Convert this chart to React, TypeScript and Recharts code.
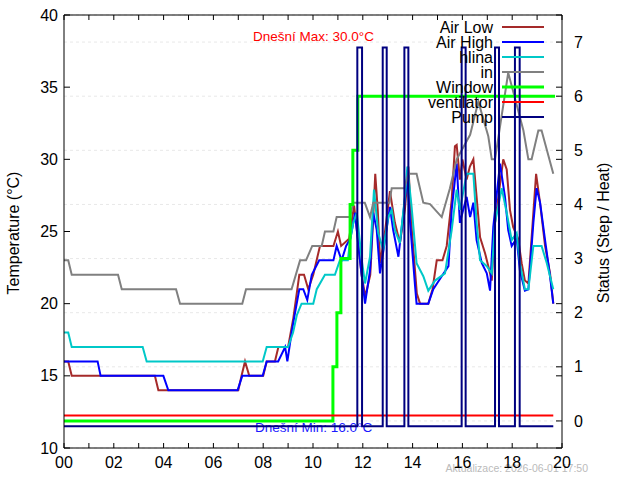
import React from 'react';
import { ComposedChart, Line, XAxis, YAxis, CartesianGrid, ReferenceLine, Legend } from 'recharts';

// ---------- data ----------
const hourTicks = [0, 1, 2, 3, 4, 5, 6, 7, 8, 9, 10, 11, 12, 13, 14, 15, 16, 17, 18, 19, 20];
const tempTicks = [10, 15, 20, 25, 30, 35, 40];
const statusTicks = [0, 1, 2, 3, 4, 5, 6, 7];

// [hour, °C]
const airLow: [number, number][] = [
  [0, 16], [0.17, 16], [0.31, 15], [3.65, 15], [3.79, 14], [7.0, 14], [7.13, 15], [7.27, 16], [7.44, 15],
  [8.0, 15], [8.14, 16], [8.47, 16], [8.61, 17], [9.0, 17], [9.21, 19], [9.45, 22], [9.64, 22], [9.81, 21],
  [10.01, 22], [10.28, 24], [10.82, 24], [11.0, 25], [11.13, 24], [11.45, 24.5], [11.65, 26.8], [11.8, 24.5],
  [11.95, 22], [12.1, 20.5], [12.3, 22], [12.42, 26], [12.5, 29], [12.6, 26.5], [12.7, 22.8], [12.9, 25.1],
  [13.09, 27.8], [13.29, 25.6], [13.49, 24.2], [13.69, 26.5], [13.83, 29.5], [13.97, 25.1], [14.17, 20.7],
  [14.3, 20], [14.63, 20], [14.8, 21], [14.97, 23], [15.2, 23], [15.37, 24], [15.57, 27.2], [15.7, 30.9],
  [15.77, 31], [15.9, 28.6], [16.0, 30], [16.17, 28.6], [16.3, 29.5], [16.44, 30], [16.57, 27.4], [16.71, 24.6],
  [16.91, 23.5], [17.11, 22.1], [17.18, 21.6], [17.31, 25.6], [17.64, 30], [17.78, 29.3], [17.91, 26.5],
  [18.04, 25.3], [18.24, 24.5], [18.38, 22.8], [18.51, 21.6], [18.65, 21.4], [18.85, 26.3], [18.96, 29],
  [19.12, 26.95], [19.32, 24], [19.52, 22.1], [19.65, 20],
];

const airHigh: [number, number][] = [
  [0, 16], [1.35, 16], [1.47, 15], [3.99, 15], [4.19, 14], [6.97, 14], [7.16, 15], [7.98, 15], [8.14, 16],
  [8.6, 16], [8.88, 17], [8.97, 16], [9.14, 18], [9.24, 19], [9.45, 21], [9.61, 21], [9.77, 20.25], [9.95, 22],
  [10.25, 23], [10.82, 23], [10.95, 24], [11.15, 23], [11.33, 24], [11.5, 24.5], [11.69, 26.3], [11.82, 24],
  [11.96, 21.9], [12.09, 20], [12.29, 22.3], [12.42, 26.3], [12.56, 25.1], [12.69, 22.1], [12.89, 24.4],
  [13.09, 26.7], [13.22, 25.1], [13.43, 23.25], [13.63, 26.3], [13.79, 28.8], [13.9, 25.6], [14.1, 21.2],
  [14.16, 20], [14.63, 20], [14.83, 21], [15.17, 21.9], [15.44, 22.6], [15.57, 26.5], [15.77, 29.7],
  [15.9, 25.6], [16.17, 27.4], [16.31, 26], [16.44, 27], [16.57, 24.4], [16.78, 22.8], [16.98, 22.1],
  [17.11, 20.9], [17.24, 25.3], [17.51, 29.7], [17.71, 27.4], [17.84, 25.1], [17.98, 24], [18.18, 24.5],
  [18.31, 22.3], [18.51, 20.9], [18.65, 21], [18.85, 25.6], [18.98, 28], [19.12, 27], [19.32, 24.4],
  [19.52, 21.9], [19.65, 20],
];

const hlina: [number, number][] = [
  [0, 18], [0.17, 18], [0.31, 17], [3.16, 17], [3.32, 16], [7.98, 16], [8.14, 17], [9.0, 17], [9.2, 18],
  [9.35, 19.2], [9.54, 20], [10.01, 20], [10.15, 21], [10.48, 22], [10.88, 22], [11.08, 23], [11.4, 23],
  [11.49, 24.4], [11.62, 25.6], [11.76, 26.3], [11.96, 23], [12.09, 21.4], [12.29, 23.25], [12.45, 27.9],
  [12.62, 24.9], [12.82, 23.7], [13.02, 26], [13.16, 26.5], [13.29, 25.1], [13.49, 24.2], [13.69, 27.4],
  [13.79, 29.5], [13.96, 26.7], [14.16, 22.8], [14.43, 21.9], [14.63, 20.9], [14.9, 21.6], [15.3, 22.1],
  [15.57, 25.1], [15.77, 27.9], [15.9, 26.5], [16.17, 29], [16.44, 29], [16.57, 25.6], [16.71, 23],
  [16.98, 22.6], [17.18, 22.1], [17.31, 25.6], [17.58, 28], [17.78, 26.3], [17.98, 24.4], [18.18, 24.9],
  [18.31, 22.8], [18.51, 21], [18.65, 21], [18.85, 24], [19.18, 24], [19.39, 22.8], [19.65, 21],
];

const inside: [number, number][] = [
  [0, 23], [0.17, 23], [0.31, 22], [2.17, 22], [2.32, 21], [4.5, 21], [4.66, 20], [7.16, 20], [7.31, 21],
  [9.14, 21], [9.48, 23], [9.72, 23], [9.97, 24], [10.35, 24], [10.48, 25], [10.82, 25], [10.95, 26],
  [11.49, 26], [11.62, 27], [12.08, 27], [12.29, 26], [12.42, 27], [13.07, 27], [13.16, 28], [13.67, 28],
  [13.83, 29], [14.16, 29], [14.43, 27], [14.7, 26.9], [15.17, 26], [15.5, 28], [15.77, 30], [16.31, 31.7],
  [16.64, 34], [17.04, 31.6], [17.18, 30], [17.31, 30], [17.84, 36], [18.45, 32], [18.65, 30], [18.78, 30],
  [19.05, 32], [19.18, 32], [19.65, 29],
];

// status axis (step values)
const windowSteps: [number, number][] = [
  [0, 0], [10.8, 1], [10.96, 2], [11.12, 3], [11.49, 4], [11.6, 5], [11.8, 6], [19.72, 6],
];
const ventilator: [number, number][] = [[0, 0.1], [19.65, 0.1]];
const pump: [number, number][] = [
  [0, -0.1], [11.78, 6.9], [11.97, -0.1], [12.8, 6.9], [12.96, -0.1], [13.67, 6.9], [13.83, -0.1],
  [15.97, 6.9], [16.13, -0.1], [17.31, 6.9], [17.47, -0.1], [18.11, 6.9], [18.3, -0.1], [19.65, -0.1],
];

const legendNames = ['Air Low', 'Air High', 'hlina', 'in', 'Window', 'ventilator', 'Pump'];
const colors = ['#a52a2a', '#0000ff', '#00c8c8', '#808080', '#00ff00', '#ff0000', '#000080'];
const widths = [2, 2, 2, 2, 3, 2, 2];

const maxText = 'Dnešní Max: 30.0°C';
const minText = 'Dnešní Min: 16.0°C';
const updText = 'Aktualizace: 2026-06-01 17:50';

// ---------- layout ----------
const W = 640;
const H = 480;
const PLOT_TOP = 15;
const PLOT_RIGHT = 562;
const FONT = '"Liberation Sans", Arial, sans-serif';

const pts = (a: [number, number][]) => a.map(([t, v]) => ({ t, v }));

const XTick = (props: any) => {
  const { x, y, payload } = props;
  const h = payload.value as number;
  return (
    <g>
      <line x1={x} x2={x} y1={y} y2={y - 5} stroke="#000" />
      <line x1={x} x2={x} y1={PLOT_TOP} y2={PLOT_TOP + 5} stroke="#000" />
      {h % 2 === 0 && (
        <text x={x} y={y + 20} textAnchor="middle" fontSize={16} fontFamily={FONT} fill="#000">
          {String(h).padStart(2, '0')}
        </text>
      )}
    </g>
  );
};

const LTick = (props: any) => {
  const { x, y, payload } = props;
  return (
    <g>
      <line x1={x} x2={x + 6} y1={y} y2={y} stroke="#000" />
      <line x1={PLOT_RIGHT} x2={PLOT_RIGHT - 6} y1={y} y2={y} stroke="#000" />
      <text x={x - 6} y={y} dy="0.35em" textAnchor="end" fontSize={16} fontFamily={FONT} fill="#000">
        {payload.value}
      </text>
    </g>
  );
};

const RTick = (props: any) => {
  const { x, y, payload } = props;
  return (
    <g>
      <line x1={x} x2={x - 6} y1={y} y2={y} stroke="#000" />
      <text x={x + 12} y={y} dy="0.35em" textAnchor="start" fontSize={16} fontFamily={FONT} fill="#000">
        {payload.value}
      </text>
    </g>
  );
};

const LegendBox = () => (
  <svg width={160} height={120} style={{ display: 'block' }}>
    {legendNames.map((n, i) => (
      <g key={n}>
        <text x={93} y={12 + 15 * i} dy="0.35em" textAnchor="end" fontSize={16} fontFamily={FONT} fill="#000">
          {n}
        </text>
        <line x1={102} x2={144} y1={12 + 15 * i} y2={12 + 15 * i} stroke={colors[i]} strokeWidth={widths[i]} />
      </g>
    ))}
  </svg>
);

export default function App() {
  return (
    <div style={{ position: 'absolute', left: 0, top: 0, width: W, height: H, background: '#fff', zIndex: 0, fontFamily: FONT }}>
      <svg width={W} height={H} style={{ position: 'absolute', left: 0, top: 0 }}>
        <text transform="translate(13,233) rotate(-90)" textAnchor="middle" dy="0.35em" fontSize={16} fontFamily={FONT} fill="#000">
          Temperature (°C)
        </text>
        <text transform="translate(603,233) rotate(-90)" textAnchor="middle" dy="0.35em" fontSize={16} fontFamily={FONT} fill="#000">
          Status (Step / Heat)
        </text>
        <text x={253} y={41} fontSize={13.5} fontFamily={FONT} fill="#ff0000">{maxText}</text>
        <text x={255} y={432} fontSize={13.5} fontFamily={FONT} fill="#1a1aff">{minText}</text>
        <text x={588} y={472} textAnchor="end" fontSize={10.5} fontFamily={FONT} fill="#bbbbbb">{updText}</text>
      </svg>
      <div style={{ position: 'absolute', left: 0, top: 0 }}>
        <ComposedChart width={W} height={H} margin={{ top: 15, right: 28, bottom: 2, left: 24 }}>
          <CartesianGrid yAxisId="right" vertical={false} stroke="#e8e8e8" strokeDasharray="3 3" />
          <XAxis
            type="number"
            dataKey="t"
            domain={[0, 20]}
            ticks={hourTicks}
            allowDataOverflow
            height={30}
            tickSize={0}
            tickMargin={0}
            tick={<XTick />}
            axisLine={{ stroke: '#000' }}
            tickLine={false}
            interval={0}
          />
          <YAxis
            yAxisId="left"
            type="number"
            domain={[10, 40]}
            ticks={tempTicks}
            allowDataOverflow
            width={40}
            tickSize={0}
            tickMargin={0}
            tick={<LTick />}
            axisLine={{ stroke: '#000' }}
            tickLine={false}
            interval={0}
          />
          <YAxis
            yAxisId="right"
            orientation="right"
            type="number"
            domain={[-0.5, 7.5]}
            ticks={statusTicks}
            allowDataOverflow
            width={50}
            tickSize={0}
            tickMargin={0}
            tick={<RTick />}
            axisLine={{ stroke: '#000' }}
            tickLine={false}
            interval={0}
          />
          <ReferenceLine yAxisId="left" y={40} stroke="#000" />
          <Legend
            layout="vertical"
            align="center"
            verticalAlign="middle"
            content={<LegendBox />}
            wrapperStyle={{ position: 'absolute', left: 400, top: 15, width: 160, height: 120 }}
          />
          <Line yAxisId="left" data={pts(airLow)} dataKey="v" name="Air Low" type="linear" stroke={colors[0]} strokeWidth={widths[0]} dot={false} isAnimationActive={false} />
          <Line yAxisId="left" data={pts(airHigh)} dataKey="v" name="Air High" type="linear" stroke={colors[1]} strokeWidth={widths[1]} dot={false} isAnimationActive={false} />
          <Line yAxisId="left" data={pts(hlina)} dataKey="v" name="hlina" type="linear" stroke={colors[2]} strokeWidth={widths[2]} dot={false} isAnimationActive={false} />
          <Line yAxisId="left" data={pts(inside)} dataKey="v" name="in" type="linear" stroke={colors[3]} strokeWidth={widths[3]} dot={false} isAnimationActive={false} />
          <Line yAxisId="right" data={pts(windowSteps)} dataKey="v" name="Window" type="stepAfter" stroke={colors[4]} strokeWidth={widths[4]} dot={false} isAnimationActive={false} />
          <Line yAxisId="right" data={pts(ventilator)} dataKey="v" name="ventilator" type="linear" stroke={colors[5]} strokeWidth={widths[5]} dot={false} isAnimationActive={false} />
          <Line yAxisId="right" data={pts(pump)} dataKey="v" name="Pump" type="stepAfter" stroke={colors[6]} strokeWidth={widths[6]} dot={false} isAnimationActive={false} />
        </ComposedChart>
      </div>
    </div>
  );
}
